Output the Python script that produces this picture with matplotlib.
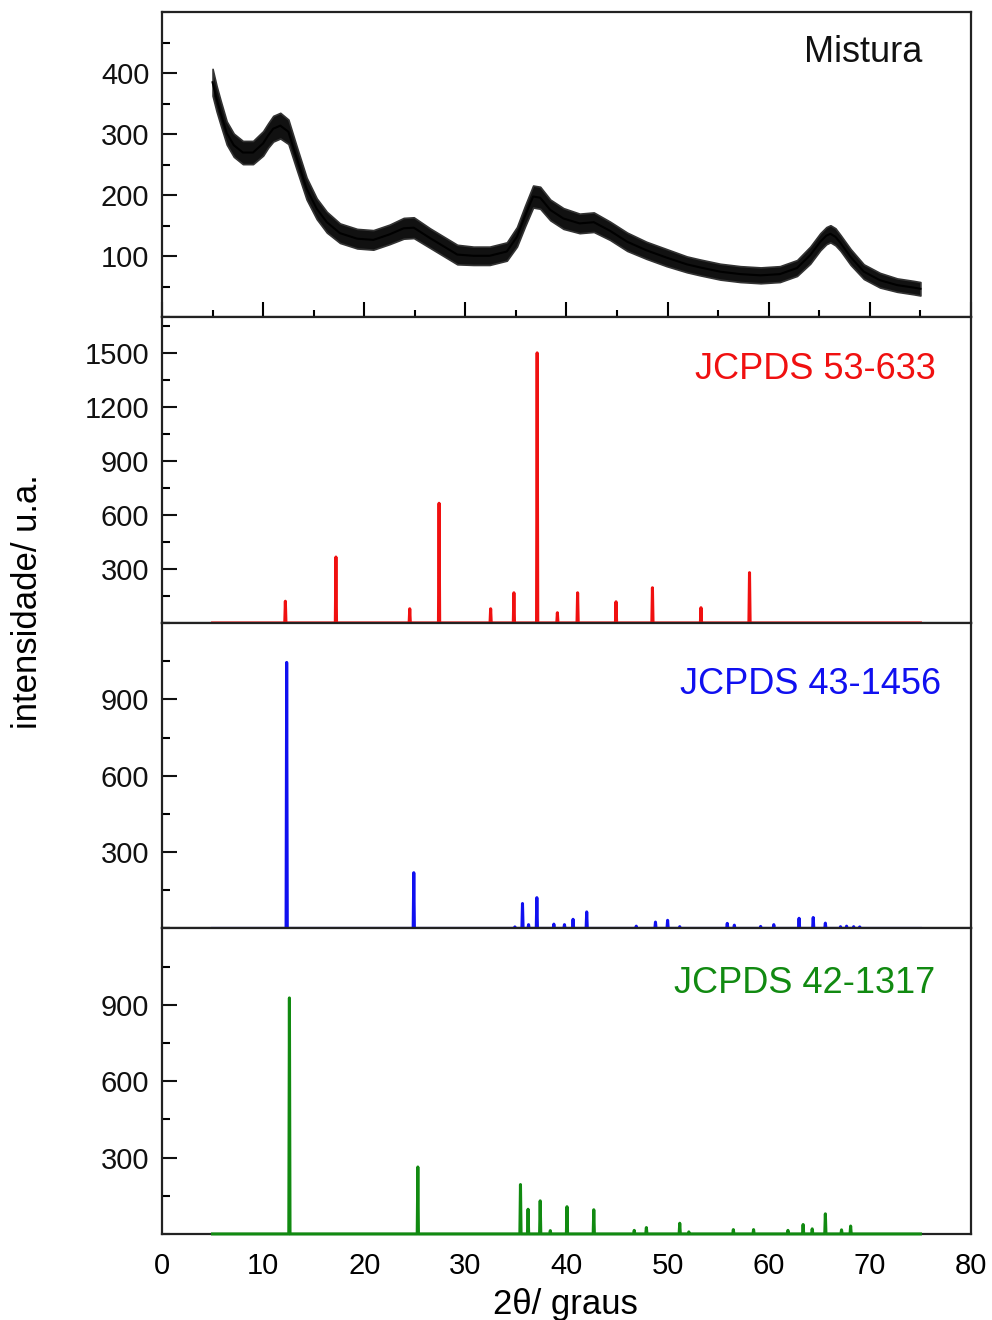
import matplotlib
matplotlib.use("agg")
import matplotlib.pyplot as plt
from matplotlib.ticker import MultipleLocator

plt.rcParams['font.family'] = ['Liberation Sans', 'DejaVu Sans']

mistura_2theta = [5.0, 5.4, 5.8, 6.4, 7.1, 8.0, 9.0, 10.0, 10.5, 11.0, 11.7, 12.5, 13.3,
                  14.3, 15.3, 16.3, 17.6, 19.3, 20.9, 22.5, 23.9, 24.9, 26.5, 28.2,
                  29.2, 30.8, 32.4, 34.1, 35.1, 35.9, 36.7, 37.4, 38.4, 39.7, 41.3,
                  42.7, 44.3, 46.0, 47.9, 49.9, 51.9, 53.2, 55.2, 57.2, 59.2, 61.1,
                  62.8, 64.1, 65.1, 65.7, 66.1, 66.6, 67.1, 68.1, 69.4, 71.0, 72.7, 74.3, 75.0]
mistura_int = [385, 358, 335, 302, 282, 270, 270, 285, 298, 309, 314, 304, 262,
               211, 178, 156, 138, 129, 127, 136, 146, 147, 130, 113,
               103, 101, 101, 108, 132, 166, 198, 196, 176, 162, 154,
               156, 142, 124, 110, 98, 87, 82, 75, 71, 69, 71,
               81, 102, 124, 134, 137, 132, 122, 99, 75, 61, 53, 49, 47]
mistura_ruido = [22, 21, 20, 19, 19, 19, 19, 20, 20, 21, 21, 20, 19,
                 18, 17, 17, 16, 16, 16, 16, 17, 17, 16, 16,
                 16, 15, 15, 15, 16, 17, 18, 18, 17, 17, 16,
                 16, 15, 15, 14, 14, 13, 13, 13, 13, 13, 13,
                 13, 14, 14, 14, 14, 14, 13, 13, 12, 12, 11, 11, 11]

# fichas JCPDS: posições (2θ) e intensidades
jcpds_53633_pos = [12.2, 17.2, 24.5, 27.4, 32.5, 34.8, 37.1, 39.1, 41.1, 44.9, 48.5, 53.3, 58.1]
jcpds_53633_int = [121, 367, 79, 666, 79, 168, 1503, 57, 168, 118, 196, 85, 280]

jcpds_431456_pos = [12.33, 24.9, 34.9, 35.65, 36.25, 37.07, 38.75, 39.8, 40.65, 42.0,
                    46.9, 48.8, 50.0, 51.2, 55.9, 56.6, 59.2, 60.5, 63.0, 64.4,
                    65.6, 67.1, 67.7, 68.4, 69.0]
jcpds_431456_int = [1045, 219, 6, 98, 15, 121, 17, 15, 36, 65,
                    9, 25, 32, 7, 20, 13, 8, 15, 40, 43,
                    21, 7, 9, 7, 6]

jcpds_421317_pos = [12.6, 25.3, 35.45, 36.2, 37.4, 38.4, 40.05, 42.7, 46.7, 47.9,
                    51.2, 52.1, 56.5, 58.5, 61.9, 63.4, 64.3, 65.6, 67.2, 68.1]
jcpds_421317_int = [927, 263, 194, 97, 130, 13, 107, 95, 14, 25,
                    42, 8, 17, 17, 14, 37, 20, 79, 16, 31]

faixa_2theta = (5, 75)


def perfil_barras(pos, ints, inicio, fim, meia=0.06):
    """Transforma a lista de picos numa linha contínua com picos estreitos."""
    xs, ys = [inicio], [0]
    for p, h in zip(pos, ints):
        xs += [p - meia, p, p + meia]
        ys += [0, h, 0]
    xs.append(fim)
    ys.append(0)
    return xs, ys


fig, axes = plt.subplots(4, 1, figsize=(9.92, 13.2), dpi=100, sharex=True)
fig.subplots_adjust(left=0.1633, right=0.9788, top=0.9909, bottom=0.0652, hspace=0)

paineis = [
    (jcpds_53633_pos, jcpds_53633_int, '#f01010', 'JCPDS 53-633', 1700, [300, 600, 900, 1200, 1500], 150, 76.5, 0.83),
    (jcpds_431456_pos, jcpds_431456_int, '#1010f0', 'JCPDS 43-1456', 1200, [300, 600, 900], 150, 77.0, 0.80),
    (jcpds_421317_pos, jcpds_421317_int, '#118a11', 'JCPDS 42-1317', 1200, [300, 600, 900], 150, 76.5, 0.82),
]

# painel superior: Mistura
ax = axes[0]
baixo = [c - r for c, r in zip(mistura_int, mistura_ruido)]
cima = [c + r for c, r in zip(mistura_int, mistura_ruido)]
ax.fill_between(mistura_2theta, baixo, cima, facecolor='#111111', edgecolor='#333333', linewidth=1.2)
ax.plot(mistura_2theta, mistura_int, color='black', linewidth=1.5)
ax.set_ylim(0, 500)
ax.set_yticks([100, 200, 300, 400])
ax.yaxis.set_minor_locator(MultipleLocator(50))
ax.text(75.2, 0.866, 'Mistura', transform=ax.get_xaxis_transform(),
        ha='right', va='center', fontsize=26, color='#111111')
ax.tick_params(axis='x', which='major', direction='in', length=11, width=1.5, bottom=True, labelbottom=False)
ax.tick_params(axis='x', which='minor', direction='in', length=5, width=1.5, bottom=True)
ax.xaxis.set_major_locator(MultipleLocator(10))
ax.xaxis.set_minor_locator(MultipleLocator(5))

for ax, (pos, ints, cor, nome, ytop, yt, ymin, xt, yt_txt) in zip(axes[1:], paineis):
    xs, ys = perfil_barras(pos, ints, *faixa_2theta)
    ax.plot(xs, ys, color=cor, linewidth=2.2, zorder=3, clip_on=False)
    ax.set_ylim(0, ytop)
    ax.set_yticks(yt)
    ax.yaxis.set_minor_locator(MultipleLocator(ymin))
    ax.text(xt, yt_txt, nome, transform=ax.get_xaxis_transform(),
            ha='right', va='center', fontsize=26, color=cor)
    ax.tick_params(axis='x', which='both', length=0)

for ax in axes:
    ax.set_xlim(0, 80)
    ax.tick_params(axis='y', which='major', direction='in', length=11, width=1.5,
                   labelsize=21, pad=9, colors='#111111')
    ax.tick_params(axis='y', which='minor', direction='in', length=6, width=1.5)
    for s in ax.spines.values():
        s.set_linewidth(1.6)
        s.set_color('#222222')

axes[-1].set_xticks(range(0, 81, 10))
axes[-1].tick_params(axis='x', which='both', length=0, labelsize=21, pad=13, labelbottom=True)

fig.text(0.028, 0.544, 'intensidade/ u.a.', rotation=90, ha='center', va='center', fontsize=25)
fig.text(0.5696, 0.012, '2θ/ graus', ha='center', va='center', fontsize=25)

fig.savefig('out.png', dpi=100)
